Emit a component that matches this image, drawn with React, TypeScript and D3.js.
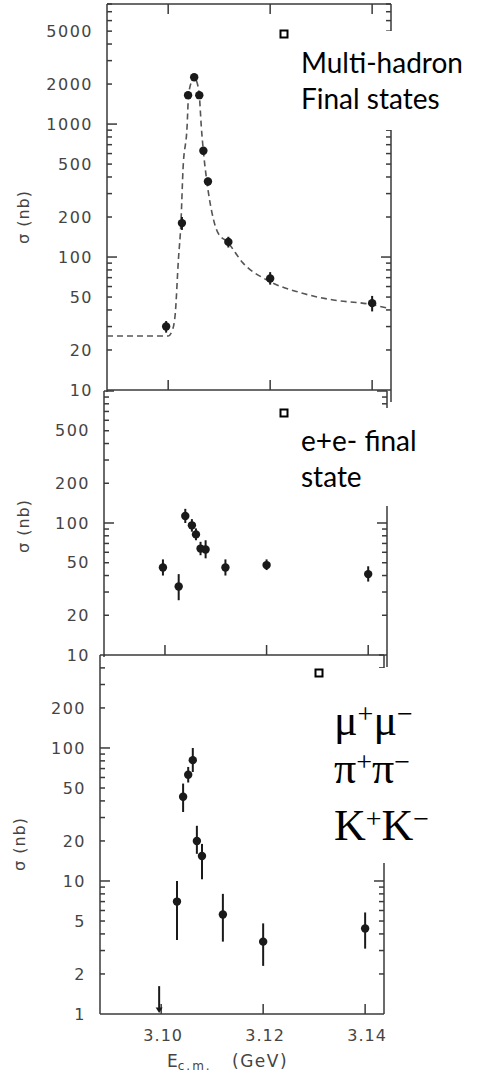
import React, { useEffect, useRef } from "react";
import * as d3 from "d3";

// energy axis (GeV)
const energyDomain = [3.088, 3.1437];
const energyTicks = [3.1, 3.12, 3.14];
const energyTickLabels = ["3.10", "3.12", "3.14"];

// multi-hadron final states
const hadronE = [3.0996, 3.1027, 3.1039, 3.1051, 3.1061, 3.1069, 3.1078, 3.1118, 3.12, 3.14];
const hadronSigma = [30, 180, 1650, 2250, 1650, 630, 370, 130, 69, 45];
const hadronLo = [27, 160, 1550, 2150, 1550, 590, 345, 118, 62, 39];
const hadronHi = [33, 200, 1750, 2350, 1750, 670, 395, 142, 77, 51];

// dashed fit curve
const fitE = [3.088, 3.1, 3.1008, 3.1014, 3.102, 3.1025, 3.1029, 3.1037, 3.104, 3.1047, 3.1051, 3.1055, 3.1061, 3.1065, 3.1069, 3.1076, 3.1086, 3.1098, 3.1116, 3.1147, 3.1194, 3.1259, 3.1324, 3.1392, 3.1429];
const fitSigma = [25.5, 25.5, 28, 38, 95, 180, 450, 950, 1650, 2140, 2300, 2140, 1650, 950, 627, 366, 214, 151, 130, 90, 67, 54, 47.5, 44.4, 41.4];

// e+e- final state
const eeE = [3.0996, 3.1027, 3.104, 3.1053, 3.1061, 3.107, 3.108, 3.1119, 3.12, 3.14];
const eeSigma = [46, 33, 113, 96, 82, 64, 63, 46, 48, 41];
const eeLo = [40, 26, 100, 86, 74, 57, 54, 40, 44, 36];
const eeHi = [53, 41, 128, 107, 91, 72, 74, 53, 53, 47];

// mu+mu-, pi+pi-, K+K-
const mumuE = [3.1031, 3.1043, 3.1053, 3.1062, 3.107, 3.108, 3.1121, 3.12, 3.14];
const mumuSigma = [7, 43, 63, 81, 20, 15.4, 5.6, 3.5, 4.4];
const mumuLo = [3.6, 33, 55, 66, 16, 10.3, 3.5, 2.3, 3.1];
const mumuHi = [10, 54, 72, 100, 26, 19, 8, 4.8, 5.8];
const mumuLimitE = [3.0996];
const mumuLimitSigma = [1.62];

const hadronAxisLabels = [10, 20, 50, 100, 200, 500, 1000, 2000, 5000];
const eeAxisLabels = [10, 20, 50, 100, 200, 500];
const mumuAxisLabels = [1, 2, 5, 10, 20, 50, 100, 200];

const INK = "#1a1a1a";
const AXIS = "#3a3a3a";
const LABEL = "#444";

export default function App() {
  const ref = useRef<SVGSVGElement>(null);

  useEffect(() => {
    const svg = d3.select(ref.current);
    svg.selectAll("*").remove();

    const panels = [
      { xRange: [107, 391], yDomain: [10, 8000], yRange: [390, 4], labels: hadronAxisLabels, titleX: 23, titleY: 217, topTicks: true,
        E: hadronE, S: hadronSigma, lo: hadronLo, hi: hadronHi },
      { xRange: [104, 387], yDomain: [10, 1000], yRange: [655, 391], labels: eeAxisLabels, titleX: 23, titleY: 526, topTicks: false,
        E: eeE, S: eeSigma, lo: eeLo, hi: eeHi },
      { xRange: [100, 384], yDomain: [1, 500], yRange: [1014, 655], labels: mumuAxisLabels, titleX: 19, titleY: 844, topTicks: false,
        E: mumuE, S: mumuSigma, lo: mumuLo, hi: mumuHi },
    ];

    const scales = panels.map((p, i) => {
      const x = d3.scaleLinear().domain(energyDomain).range(p.xRange);
      const y = d3.scaleLog().domain(p.yDomain).range(p.yRange);
      const g = svg.append("g");
      const [x0, x1] = p.xRange;
      const [yb, yt] = p.yRange;

      // frame
      g.append("line").attr("x1", x0).attr("x2", x0).attr("y1", yt).attr("y2", yb + (i === 2 ? 0 : 2));
      g.append("line").attr("x1", x1).attr("x2", x1).attr("y1", yt).attr("y2", yb + (i === 2 ? 0 : 12));
      g.append("line").attr("x1", x0).attr("x2", x1).attr("y1", yb).attr("y2", yb);
      if (i === 0) g.append("line").attr("x1", x0).attr("x2", x1).attr("y1", yt).attr("y2", yt);

      // log ticks, both sides, pointing inward
      const ticks = y.ticks().filter(v => v > p.yDomain[0] && v <= p.yDomain[1]);
      ticks.forEach(v => {
        const lead = Math.round(v / Math.pow(10, Math.floor(Math.log10(v) + 1e-9)));
        const len = lead === 1 ? 10 : 5;
        g.append("line").attr("x1", x0).attr("x2", x0 + len).attr("y1", y(v)).attr("y2", y(v));
        g.append("line").attr("x1", x1).attr("x2", x1 - len).attr("y1", y(v)).attr("y2", y(v));
      });
      energyTicks.forEach(v => {
        g.append("line").attr("x1", x(v)).attr("x2", x(v)).attr("y1", yb).attr("y2", yb - 10);
        if (p.topTicks) g.append("line").attr("x1", x(v)).attr("x2", x(v)).attr("y1", yt).attr("y2", yt + 10);
      });
      g.selectAll("line").attr("stroke", AXIS).attr("stroke-width", 1.5);

      // y labels
      g.append("g").selectAll("text").data(p.labels).join("text")
        .attr("x", x0 - 14)
        .attr("y", d => y(d))
        .attr("dy", "0.36em")
        .attr("text-anchor", "end")
        .attr("font-family", "DejaVu Sans")
        .attr("font-size", 16)
        .attr("letter-spacing", 1.5)
        .attr("fill", LABEL)
        .text(d => d);

      g.append("text")
        .attr("transform", `translate(${p.titleX},${p.titleY}) rotate(-90)`)
        .attr("text-anchor", "middle")
        .attr("dy", "0.35em")
        .attr("font-family", "DejaVu Sans")
        .attr("font-size", 16)
        .attr("letter-spacing", 1)
        .attr("fill", LABEL)
        .text("σ (nb)");

      return { x, y, g };
    });

    // fit curve (top panel)
    {
      const { x, y, g } = scales[0];
      const line = d3.line<number>()
        .x((_, i) => x(fitE[i]))
        .y(d => y(d))
        .curve(d3.curveMonotoneX);
      g.append("path")
        .attr("d", line(fitSigma))
        .attr("fill", "none")
        .attr("stroke", "#555")
        .attr("stroke-width", 1.6)
        .attr("stroke-dasharray", "6,4");
    }

    // data points + error bars
    panels.forEach((p, i) => {
      const { x, y, g } = scales[i];
      const pts = g.append("g");
      pts.selectAll("line").data(p.E).join("line")
        .attr("x1", d => x(d)).attr("x2", d => x(d))
        .attr("y1", (_, k) => y(p.lo[k])).attr("y2", (_, k) => y(p.hi[k]))
        .attr("stroke", INK).attr("stroke-width", 2);
      pts.selectAll("circle").data(p.E).join("circle")
        .attr("cx", d => x(d)).attr("cy", (_, k) => y(p.S[k]))
        .attr("r", 4.2).attr("fill", INK);
    });

    // upper limit arrow (bottom panel)
    {
      const { x, y, g } = scales[2];
      mumuLimitE.forEach((e, k) => {
        g.append("line")
          .attr("x1", x(e)).attr("x2", x(e))
          .attr("y1", y(mumuLimitSigma[k])).attr("y2", y(1.1))
          .attr("stroke", INK).attr("stroke-width", 2);
        g.append("path")
          .attr("d", `M${x(e) - 3.5},${y(1.12)}L${x(e) + 3.5},${y(1.12)}L${x(e)},${y(1.0) - 1}Z`)
          .attr("fill", INK);
      });
    }

    // x tick labels and title
    {
      const { x } = scales[2];
      svg.append("g").selectAll("text").data(energyTicks).join("text")
        .attr("x", d => x(d) + 2)
        .attr("y", 1041)
        .attr("text-anchor", "middle")
        .attr("font-family", "DejaVu Sans")
        .attr("font-size", 16)
        .attr("letter-spacing", 1)
        .attr("fill", LABEL)
        .text((_, k) => energyTickLabels[k]);
      const t = svg.append("text")
        .attr("x", 167).attr("y", 1067)
        .attr("font-family", "DejaVu Sans")
        .attr("fill", LABEL);
      t.append("tspan").attr("font-size", 17).text("E");
      t.append("tspan").attr("font-size", 12).attr("dy", 3).attr("letter-spacing", 2).text("c.m.");
      t.append("tspan").attr("font-size", 17).attr("dy", -3).attr("x", 232).attr("letter-spacing", 1.5).text("(GeV)");
    }

    // legend boxes (white background hides part of the right axis)
    const boxes = [
      { x: 279, y: 31, w: 199, h: 99 },
      { x: 279, y: 408, w: 199, h: 98 },
      { x: 312, y: 668, w: 166, h: 195 },
    ];
    svg.append("g").selectAll("rect").data(boxes).join("rect")
      .attr("x", d => d.x).attr("y", d => d.y).attr("width", d => d.w).attr("height", d => d.h)
      .attr("fill", "white");

    const squares = [[284, 34], [284, 413], [319, 673]];
    svg.append("g").selectAll("rect").data(squares).join("rect")
      .attr("x", d => d[0] - 3.5).attr("y", d => d[1] - 3.5).attr("width", 7).attr("height", 7)
      .attr("fill", "white").attr("stroke", "black").attr("stroke-width", 2);

    const sans = svg.append("g").attr("font-family", "Lato").attr("font-size", 28).attr("fill", "black");
    [["Multi-hadron", 73], ["Final states", 109], ["e+e- final", 451], ["state", 487]].forEach(([s, yy]) => {
      sans.append("text").attr("x", 301).attr("y", yy as number).text(s as string);
    });

    const serif = svg.append("g").attr("font-family", "Liberation Serif").attr("fill", "black");
    [["μ", 735], ["π", 783], ["K", 840]].forEach(([s, yy]) => {
      const t = serif.append("text").attr("x", 334).attr("y", yy as number).attr("font-size", 44);
      t.append("tspan").text(s as string);
      t.append("tspan").attr("font-size", 28).attr("dy", -12).text("+");
      t.append("tspan").attr("dy", 12).text(s as string);
      t.append("tspan").attr("font-size", 28).attr("dy", -12).text("−");
    });
  }, []);

  return (
    <svg
      ref={ref}
      width={478}
      height={1076}
      style={{ position: "absolute", left: 0, top: 0, background: "white" }}
    />
  );
}
